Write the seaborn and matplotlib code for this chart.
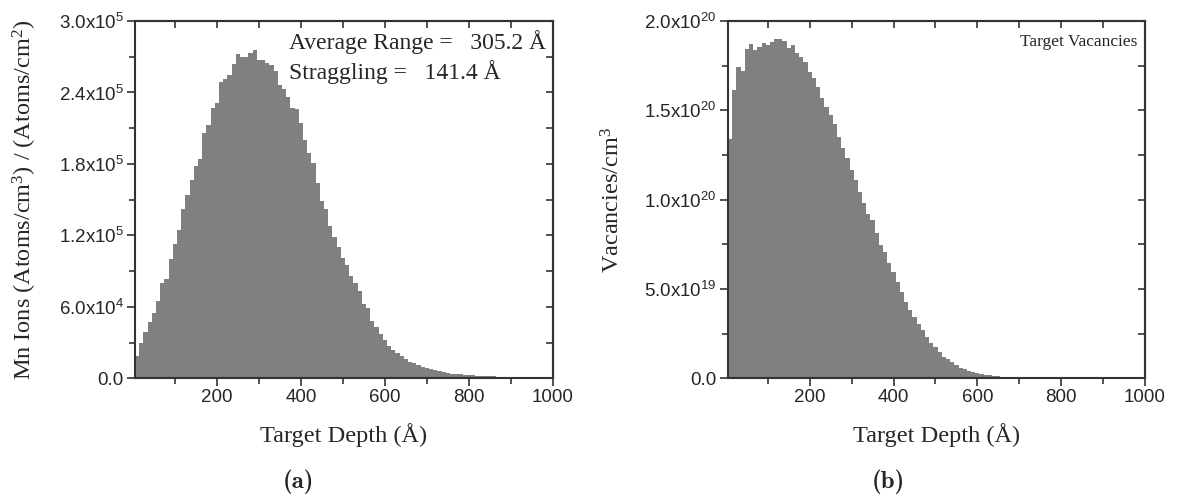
import numpy as np
import pandas as pd
import matplotlib
matplotlib.use("Agg")
import matplotlib.pyplot as plt
from matplotlib.ticker import MultipleLocator, FixedLocator
import seaborn as sns

# ---------------- data ----------------
depth = list(range(10, 1001, 10))  # bin centres (Angstrom), bin width 10

# Mn ion distribution, units of 1e3 (Atoms/cm^3)/(Atoms/cm^2)
ions_k = [18.8, 29.9, 39.2, 47.3, 55.1, 64.9, 79.8, 83.1, 100.5, 113.0,
          124.3, 142.4, 153.9, 166.5, 178.5, 184.1, 205.7, 212.7, 226.7, 231.4,
          249.1, 251.3, 254.9, 263.6, 272.0, 270.1, 269.8, 273.1, 275.4, 267.5,
          267.0, 265.0, 263.1, 258.0, 246.0, 243.0, 236.0, 227.0, 226.0, 214.0,
          200.0, 189.0, 181.0, 164.0, 149.0, 142.0, 128.0, 119.0, 110.0, 101.0,
          95.0, 86.0, 80.0, 73.0, 62.0, 59.0, 48.0, 43.0, 37.0, 32.0,
          27.0, 24.0, 21.0, 18.5, 16.0, 14.0, 12.5, 11.0, 9.5, 8.5,
          7.5, 6.6, 5.8, 5.0, 4.5, 4.0, 3.6, 3.2, 3.0, 2.7,
          2.5, 2.3, 2.1, 1.9, 1.8, 1.6, 1.5, 1.4, 1.3, 1.2,
          1.1, 1.0, 1.0, 0.9, 0.9, 0.8, 0.8, 0.7, 0.7, 0.6]

# Target vacancies, units of 1e20 vacancies/cm^3
vac_e20 = [1.338, 1.616, 1.741, 1.722, 1.845, 1.869, 1.838, 1.856, 1.875, 1.867,
           1.881, 1.901, 1.897, 1.888, 1.849, 1.866, 1.819, 1.799, 1.772, 1.713,
           1.679, 1.632, 1.571, 1.520, 1.474, 1.422, 1.353, 1.287, 1.231, 1.166,
           1.110, 1.041, 0.979, 0.920, 0.886, 0.812, 0.746, 0.705, 0.644, 0.597,
           0.541, 0.485, 0.429, 0.382, 0.345, 0.302, 0.271, 0.233, 0.196, 0.174,
           0.149, 0.121, 0.106, 0.090, 0.075, 0.060, 0.050, 0.041, 0.034, 0.028,
           0.023, 0.019, 0.016, 0.013, 0.011, 0.009, 0.0075, 0.0062, 0.0052, 0.0043,
           0.0036, 0.0030, 0.0025, 0.0021, 0.0018, 0.0015, 0.0013, 0.0011, 0.0010, 0.0009,
           0.0008, 0.0007, 0.0006, 0.0006, 0.0005, 0.0005, 0.0004, 0.0004, 0.0004, 0.0003,
           0.0003, 0.0003, 0.0003, 0.0002, 0.0002, 0.0002, 0.0002, 0.0002, 0.0002, 0.0001]

x_major = [200, 400, 600, 800, 1000]
ions_ticks = [0, 6e4, 1.2e5, 1.8e5, 2.4e5, 3.0e5]
ions_tick_labels = ["0.0", r"$\mathregular{6.0x10^{4}}$", r"$\mathregular{1.2x10^{5}}$",
                    r"$\mathregular{1.8x10^{5}}$", r"$\mathregular{2.4x10^{5}}$", r"$\mathregular{3.0x10^{5}}$"]
vac_ticks = [0, 5e19, 1e20, 1.5e20, 2e20]
vac_tick_labels = ["0.0", r"$\mathregular{5.0x10^{19}}$", r"$\mathregular{1.0x10^{20}}$",
                   r"$\mathregular{1.5x10^{20}}$", r"$\mathregular{2.0x10^{20}}$"]

df = pd.DataFrame({
    "depth": depth,
    "ions": np.array(ions_k) * 1e3,
    "vac": np.array(vac_e20) * 1e20,
})

# ---------------- style ----------------
sns.set_style("ticks")
plt.rcParams["font.family"] = ["Liberation Serif", "DejaVu Serif"]
plt.rcParams["mathtext.fontset"] = "custom"
plt.rcParams["mathtext.rm"] = "Liberation Serif"
plt.rcParams["mathtext.it"] = "Liberation Serif:italic"
plt.rcParams["mathtext.bf"] = "Liberation Serif:bold"

W, H = 1177, 499
fig = plt.figure(figsize=(W / 100, H / 100), dpi=100)

def px_axes(l, r, t, b):
    return fig.add_axes([l / W, 1 - b / H, (r - l) / W, (b - t) / H])

ax1 = px_axes(135, 553, 21, 378.3)
ax2 = px_axes(728, 1145, 21, 378.3)

BAR = "#808080"
SPINE = "#333333"
tickfont = {"family": "Liberation Sans", "size": 13.5}

def style(ax, yticks, ylabels, ymax, yminor):
    ax.set_xlim(5, 1000)
    ax.set_ylim(0, ymax)
    ax.xaxis.set_major_locator(FixedLocator(x_major))
    ax.xaxis.set_minor_locator(FixedLocator([100, 300, 500, 700, 900]))
    ax.set_xticklabels([str(v) for v in x_major], fontdict=tickfont)
    ax.yaxis.set_major_locator(FixedLocator(yticks))
    ax.yaxis.set_minor_locator(MultipleLocator(yminor))
    ax.set_yticklabels(ylabels, fontdict=tickfont)
    ax.tick_params(which="major", direction="out", length=6, width=1.2, color=SPINE, pad=2)
    ax.tick_params(which="minor", direction="out", length=4, width=1.2, color=SPINE)
    for s in ax.spines.values():
        s.set_visible(True)
        s.set_linewidth(1.5)
        s.set_color(SPINE)
    top = ax.secondary_xaxis("top")
    top.xaxis.set_major_locator(MultipleLocator(100))
    top.tick_params(direction="in", length=5, width=1.2, color=SPINE, labeltop=False)
    top.spines["top"].set_linewidth(1.5)
    top.spines["top"].set_color(SPINE)
    right = ax.secondary_yaxis("right")
    right.yaxis.set_major_locator(MultipleLocator(yminor))
    right.tick_params(direction="in", length=5, width=1.2, color=SPINE, labelright=False)
    right.spines["right"].set_linewidth(1.5)
    right.spines["right"].set_color(SPINE)

LABEL_FS = 17.5

# panel (a)
sns.histplot(data=df, x="depth", weights="ions", binwidth=10, binrange=(5, 1005),
             color=BAR, alpha=1, linewidth=0, edgecolor=None, ax=ax1)
style(ax1, ions_ticks, ions_tick_labels, 3.0e5, 3e4)
ax1.set_xlabel("Target Depth (Å)", fontsize=LABEL_FS, labelpad=12)
ax1.set_ylabel(r"Mn Ions (Atoms/cm$\mathregular{^{3}}$) / (Atoms/cm$\mathregular{^{2}}$)",
               fontsize=LABEL_FS, labelpad=14)
ax1.text(0.368, 0.941, "Average Range =   305.2 Å", transform=ax1.transAxes,
         ha="left", va="center", fontsize=17)
ax1.text(0.368, 0.857, "Straggling =   141.4 Å", transform=ax1.transAxes,
         ha="left", va="center", fontsize=17)

# panel (b)
sns.histplot(data=df, x="depth", weights="vac", binwidth=10, binrange=(5, 1005),
             color=BAR, alpha=1, linewidth=0, edgecolor=None, ax=ax2)
style(ax2, vac_ticks, vac_tick_labels, 2.0e20, 2.5e19)
ax2.set_xlabel("Target Depth (Å)", fontsize=LABEL_FS, labelpad=12)
ax2.set_ylabel(r"Vacancies/cm$\mathregular{^{3}}$", fontsize=LABEL_FS, labelpad=14)
ax2.text(0.981, 0.941, "Target Vacancies", transform=ax2.transAxes,
         ha="right", va="center", fontsize=12.5)

# panel letters
fig.text(298 / W, 1 - 482 / H, "(a)", family="cmb10", fontsize=18, ha="center", va="center")
fig.text(888 / W, 1 - 482 / H, "(b)", family="cmb10", fontsize=18, ha="center", va="center")

fig.savefig("out.png", dpi=100)
